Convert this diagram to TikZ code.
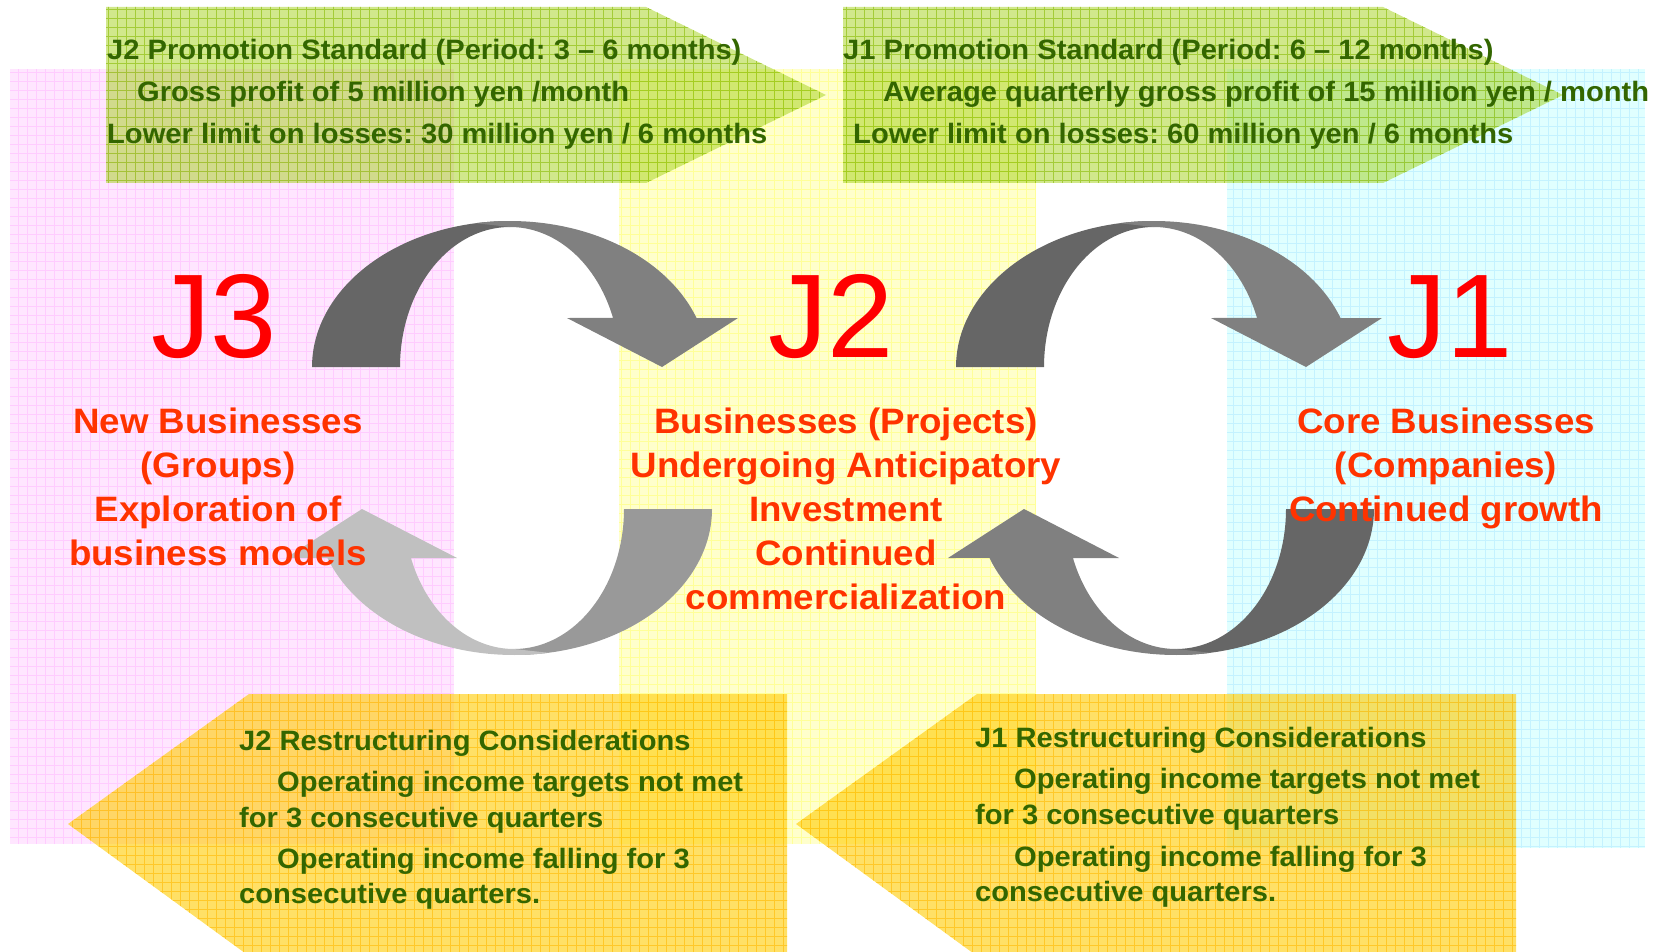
\documentclass[tikz,border=0pt]{standalone}
\usepackage{fontspec}
\setmainfont{Liberation Sans}[FakeStretch=1.04]
\newfontfamily\stagefont{Liberation Sans}
\frenchspacing
\definecolor{pinkbg}{HTML}{FFE6FF}
\definecolor{pinkgrid}{HTML}{FFCCFF}
\definecolor{yellowbg}{HTML}{FFFFCC}
\definecolor{yellowgrid}{HTML}{FFFF99}
\definecolor{cyanbg}{HTML}{E0FFFF}
\definecolor{cyangrid}{HTML}{C4F2FF}
\definecolor{greenfill}{HTML}{99CC00}
\definecolor{greengrid}{HTML}{88BB00}
\definecolor{orangefill}{HTML}{FFCC00}
\definecolor{orangegrid}{HTML}{FFB800}
\definecolor{textgreen}{HTML}{336600}
\definecolor{labelred}{HTML}{FF0000}
\definecolor{descred}{HTML}{FF3300}
\definecolor{grayA}{HTML}{666666}
\definecolor{grayB}{HTML}{808080}
\definecolor{grayC}{HTML}{999999}
\definecolor{grayD}{HTML}{C0C0C0}

% curved ribbon arrow: back part (#2) rising from the left, front part (#3) with the head
\newcommand\bendarrow[3]{%
  \begin{scope}[#1]
    \fill[#2] (-198,0) -- plot[domain=180:90,samples=60] ({198*cos(\x)},{-146*sin(\x)})
      -- plot[domain=90:180,samples=60] ({110*cos(\x)},{-140*sin(\x)}) -- cycle;
    \fill[#3] plot[domain=100:19.6,samples=60] ({198*cos(\x)},{-146*sin(\x)})
      -- (228,-49) -- (152,0) -- (57,-49)
      -- plot[domain=20.5:90,samples=50] ({110*cos(\x)},{-140*sin(\x)}) -- cycle;
  \end{scope}}

\begin{document}
\begin{tikzpicture}[x=1pt,y=-1pt,
  greentext/.style={anchor=base west, inner sep=0pt, text=textgreen,
    font=\fontsize{28}{34}\selectfont\bfseries},
  desc/.style={anchor=base, inner sep=0pt, text=descred,
    font=\fontsize{35.3}{42}\selectfont\bfseries},
  bigJ/.style={anchor=base, inner sep=0pt, text=labelred,
    font=\stagefont\fontsize{119}{130}\selectfont},
  gridline/.style={line width=0.6pt}]
\useasboundingbox (0,0) rectangle (1659,952);

% column panels
\fill[pinkbg] (10,69) rectangle (454,844);
\draw[pinkgrid,gridline,step=9pt] (10,844) grid (454,69);
\fill[yellowbg] (619,69) rectangle (1036,844);
\draw[yellowgrid,gridline,step=9pt] (619,844) grid (1036,69);
\fill[cyanbg] (1227,69) rectangle (1645,848);
\draw[cyangrid,gridline,step=9pt] (1227,848) grid (1645,69);

% promotion arrows
\begin{scope}
  \clip (106,7) -- (646,7) -- (826,95) -- (646,183) -- (106,183) -- cycle;
  \fill[greenfill,fill opacity=0.45] (100,0) rectangle (830,190);
  \draw[greengrid,gridline,draw opacity=0.6,step=9pt] (100,190) grid (830,0);
\end{scope}
\begin{scope}
  \clip (843,7) -- (1383,7) -- (1563,95) -- (1383,183) -- (843,183) -- cycle;
  \fill[greenfill,fill opacity=0.45] (840,0) rectangle (1570,190);
  \draw[greengrid,gridline,draw opacity=0.6,step=9pt] (840,190) grid (1570,0);
\end{scope}

% restructuring arrows
\begin{scope}
  \clip (68,824) -- (249,694) -- (787,694) -- (787,956) -- (249,956) -- cycle;
  \fill[orangefill,fill opacity=0.6] (60,690) rectangle (790,960);
  \draw[orangegrid,gridline,draw opacity=0.6,step=9pt] (60,960) grid (790,690);
\end{scope}
\begin{scope}
  \clip (796,824) -- (977,694) -- (1516,694) -- (1516,956) -- (977,956) -- cycle;
  \fill[orangefill,fill opacity=0.6] (790,690) rectangle (1520,960);
  \draw[orangegrid,gridline,draw opacity=0.6,step=9pt] (790,960) grid (1520,690);
\end{scope}

% cycle arrows
\bendarrow{shift={(510,367)}}{grayA}{grayB}
\bendarrow{shift={(1154,367)}}{grayA}{grayB}
\bendarrow{shift={(514,509)},rotate=180}{grayC}{grayD}
\bendarrow{shift={(1176,509)},rotate=180}{grayA}{grayB}

% promotion standards
\node[greentext] (p2a) at (107,60) {J2 Promotion Standard (Period: 3 – 6 months)};
\node[greentext] (p2b) at (137,102) {Gross profit of 5 million yen /month};
\node[greentext] (p2c) at (107,144) {Lower limit on losses: 30 million yen / 6 months};
\node[greentext] (p1a) at (843,60) {J1 Promotion Standard (Period: 6 – 12 months)};
\node[greentext] (p1b) at (883,102) {Average quarterly gross profit of 15 million yen / month};
\node[greentext] (p1c) at (853,144) {Lower limit on losses: 60 million yen / 6 months};

% restructuring considerations
\node[greentext] (r2a) at (239,750) {J2 Restructuring Considerations};
\node[greentext] (r2b) at (277,791) {Operating income targets not met};
\node[greentext] (r2c) at (239,827) {for 3 consecutive quarters};
\node[greentext] (r2d) at (277,868) {Operating income falling for 3};
\node[greentext] (r2e) at (239,903) {consecutive quarters.};
\node[greentext] (r1a) at (975,747) {J1 Restructuring Considerations};
\node[greentext] (r1b) at (1014,788) {Operating income targets not met};
\node[greentext] (r1c) at (975,824) {for 3 consecutive quarters};
\node[greentext] (r1d) at (1014,866) {Operating income falling for 3};
\node[greentext] (r1e) at (975,901) {consecutive quarters.};

% stage labels
\node[bigJ] (j3) at (214,357) {J3};
\node[bigJ] (j2) at (831,357) {J2};
\node[bigJ] (j1) at (1450,357) {J1};

\node[desc] (d3a) at (218,433) {New Businesses};
\node[desc] (d3b) at (218,477) {(Groups)};
\node[desc] (d3c) at (218,521) {Exploration of};
\node[desc] (d3d) at (218,565) {business models};

\node[desc] (d2a) at (846,433) {Businesses (Projects)};
\node[desc] (d2b) at (846,477) {Undergoing Anticipatory};
\node[desc] (d2c) at (846,521) {Investment};
\node[desc] (d2d) at (846,565) {Continued};
\node[desc] (d2e) at (846,609) {commercialization};

\node[desc] (d1a) at (1446,433) {Core Businesses};
\node[desc] (d1b) at (1446,477) {(Companies)};
\node[desc] (d1c) at (1446,521) {Continued growth};
\end{tikzpicture}
\end{document}
